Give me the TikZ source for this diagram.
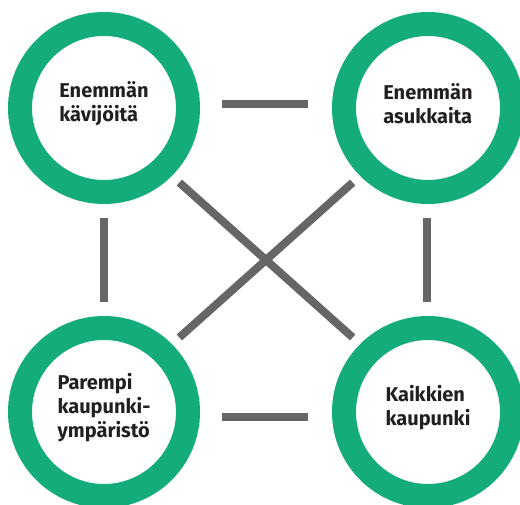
\documentclass[tikz,border=0pt]{standalone}
\usepackage{fontspec}
\setmainfont{Fira Sans}
\usetikzlibrary{positioning}
\definecolor{ringgreen}{RGB}{20,172,122}
\definecolor{linkgray}{RGB}{102,102,102}
\definecolor{inkdark}{RGB}{35,31,32}
\tikzset{
	ring/.style={circle, draw=ringgreen, line width=24pt, minimum size=168pt, inner sep=0pt},
	label/.style={align=left, font=\fontsize{20}{24}\selectfont\bfseries, text=inkdark, yshift=4pt},
	link/.style={draw=linkgray, line width=8pt}
}
\begin{document}
\begin{tikzpicture}[x=1pt,y=-1pt]
	\useasboundingbox (0,0) rectangle (520,505);
	\clip (0,0) rectangle (520,505);
	
	% the four rings
	\node[ring] (kavijat) at (104,108) {};
	\node[ring, right=132pt of kavijat] (asukkaat) {};
	\node[ring, below=112pt of kavijat] (ymparisto) {};
	\node[ring, right=132pt of ymparisto] (kaikkien) {};
	
	\node[label] at (kavijat) {Enemmän\\kävijöitä};
	\node[label] at (asukkaat) {Enemmän\\asukkaita};
	\node[label] at (ymparisto) {Parempi\\kaupunki-\\ympäristö};
	\node[label] at (kaikkien) {Kaikkien\\kaupunki};
	
	% links between them
	\draw[link, shorten <=22pt, shorten >=24pt] ([yshift=4pt]kavijat.east) -- ([yshift=4pt]asukkaat.west);
	\draw[link, shorten <=22pt, shorten >=24pt] ([yshift=-5pt]ymparisto.east) -- ([yshift=-5pt]kaikkien.west);
	\draw[link, shorten <=14pt, shorten >=14pt] (kavijat.south) -- (ymparisto.north);
	\draw[link, shorten <=14pt, shorten >=14pt] ([xshift=-1pt]asukkaat.south) -- ([xshift=-1pt]kaikkien.north);
	\draw[link, shorten <=10pt, shorten >=10pt] (kavijat.south east) -- (kaikkien.north west);
	\draw[link, shorten <=10pt, shorten >=10pt] (ymparisto.north east) -- (asukkaat.south west);
\end{tikzpicture}
\end{document}
